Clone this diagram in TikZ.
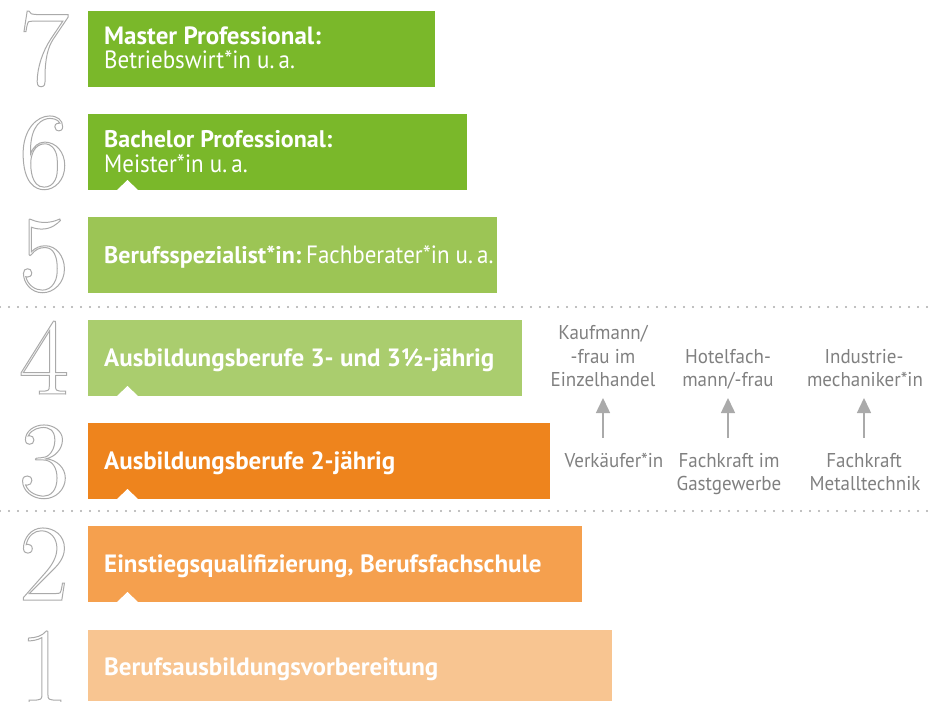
\documentclass[tikz,border=0pt]{standalone}
\usepackage{fontspec}
\usetikzlibrary{arrows.meta}
\newfontfamily\lab{PT Sans}[FakeStretch=0.92]
\newfontfamily\labb{PT Sans}
\newfontfamily\sidef{PT Sans}[FakeStretch=0.95]
\definecolor{gA}{RGB}{122,184,42}
\definecolor{gB}{RGB}{156,197,85}
\definecolor{gC}{RGB}{170,205,110}
\definecolor{oA}{RGB}{238,132,29}
\definecolor{oB}{RGB}{245,160,78}
\definecolor{oC}{RGB}{248,197,145}
\definecolor{sidegray}{RGB}{128,128,128}
\definecolor{arrgray}{RGB}{170,170,170}
\definecolor{dotgray}{RGB}{170,170,170}
\definecolor{numgray}{RGB}{170,170,170}
\tikzset{
 bar/.style={anchor=north west, minimum height=76pt, inner sep=0pt, outer sep=0pt, draw=none},
 num/.style={anchor=base, text=numgray, inner sep=0pt, font=\fontsize{109}{109}\selectfont},
 lbl/.style={anchor=base west, text=white, inner sep=0pt, font=\labb\fontsize{25}{28}\selectfont\bfseries},
 side/.style={anchor=base, text=sidegray, inner sep=0pt, font=\sidef\fontsize{20}{24}\selectfont},
 arr/.style={draw=arrgray, line width=1.5pt, -{Triangle[width=14pt,length=15pt]}},
 dotline/.style={draw=dotgray, line width=2.2pt, line cap=round, dash pattern=on 0pt off 9pt},
 notch/.style={fill=white, draw=none}
}
\newcommand{\dig}[1]{\special{pdf:code q 1 Tr 1 w}#1\special{pdf:code Q}}
\newcommand{\lt}[1]{{\mdseries\lab #1}}
\begin{document}
\begin{tikzpicture}[x=1pt,y=-1pt]
\useasboundingbox (0,0) rectangle (931,701);
% bars
\node[bar, fill=gA, minimum width=347pt] (b7) at (88,11) {};
\node[bar, fill=gA, minimum width=379pt] (b6) at (88,114) {};
\node[bar, fill=gB, minimum width=409pt] (b5) at (88,217) {};
\node[bar, fill=gC, minimum width=434pt] (b4) at (88,320) {};
\node[bar, fill=oA, minimum width=462pt] (b3) at (88,423) {};
\node[bar, fill=oB, minimum width=494pt] (b2) at (88,526) {};
\node[bar, fill=oC, minimum width=524pt, minimum height=71pt] (b1) at (88,630) {};
% notches
\fill[notch] (117,190) -- (127.5,180) -- (138,190) -- cycle;
\fill[notch] (117,396) -- (127.5,386) -- (138,396) -- cycle;
\fill[notch] (117,499) -- (127.5,489) -- (138,499) -- cycle;
\fill[notch] (117,602) -- (127.5,592) -- (138,602) -- cycle;
% separators
\coordinate (s1a) at (0,307); \coordinate (s1b) at (931,307);
\coordinate (s2a) at (0,511); \coordinate (s2b) at (931,511);
\draw[dotline] (s1a) -- (s1b);
\draw[dotline] (s2a) -- (s2b);
% digits
\node[num] (n7) at (44,85) {\dig{7}};
\node[num] (n6) at (44,188) {\dig{6}};
\node[num] (n5) at (44,291) {\dig{5}};
\node[num] (n4) at (44,394) {\dig{4}};
\node[num] (n3) at (44,497) {\dig{3}};
\node[num] (n2) at (44,600) {\dig{2}};
\node[num] (n1) at (44,703) {\dig{1}};
% labels
\node[lbl] (t7a) at (104,45) {Master Professional:};
\node[lbl] (t7b) at (104,69) {\lt{Betriebswirt*in u.\,a.}};
\node[lbl, font=\labb\fontsize{24}{28}\selectfont\bfseries] (t6a) at (104,147) {Bachelor Professional:};
\node[lbl] (t6b) at (104,172) {\lt{Meister*in u.\,a.}};
\node[lbl, font=\labb\fontsize{24}{28}\selectfont\bfseries] (t5) at (104,263) {Berufsspezialist*in:\hspace{0.2em}{\mdseries\lab\fontsize{25}{28}\selectfont Fachberater*in u.\,a.}};
\node[lbl] (t4) at (104,366) {Ausbildungsberufe 3- und 3½-jährig};
\node[lbl] (t3) at (104,469) {Ausbildungsberufe 2-jährig};
\node[lbl] (t2) at (104,572) {Einstiegsqualifizierung, Berufsfachschule};
\node[lbl] (t1) at (104,675) {Berufsausbildungsvorbereitung};
% side texts
\node[side] (k1) at (603,339) {Kaufmann/};
\node[side] (k2) at (603,363) {-frau im};
\node[side] (k3) at (603,386) {Einzelhandel};
\node[side] (h1) at (728,363) {Hotelfach-};
\node[side] (h2) at (728,386) {mann/-frau};
\node[side] (i1) at (864,363) {Industrie-};
\node[side] (i2) at (865,386) {mechaniker*in};
\node[side] (v1) at (614,467) {Verkäufer*in};
\node[side] (f1) at (729,467) {Fachkraft im};
\node[side] (f2) at (729,490) {Gastgewerbe};
\node[side] (m1) at (864,467) {Fachkraft};
\node[side] (m2) at (865,490) {Metalltechnik};
% arrows
\coordinate (a1s) at (603,438); \coordinate (a1e) at (603,398);
\coordinate (a2s) at (728,438); \coordinate (a2e) at (728,398);
\coordinate (a3s) at (864,438); \coordinate (a3e) at (864,398);
\draw[arr] (a1s) -- (a1e);
\draw[arr] (a2s) -- (a2e);
\draw[arr] (a3s) -- (a3e);
\end{tikzpicture}
\end{document}
